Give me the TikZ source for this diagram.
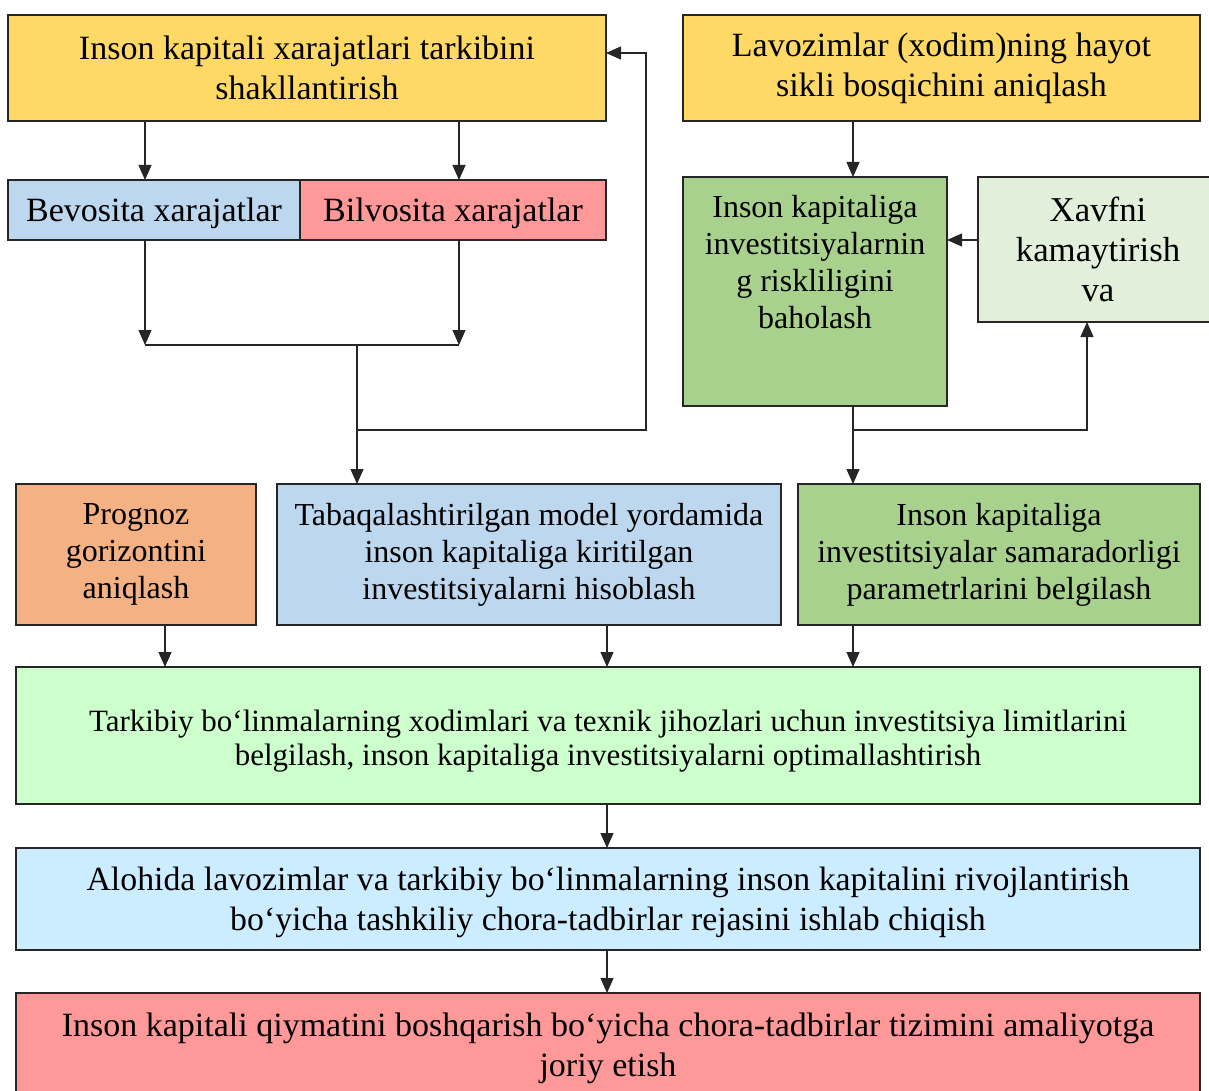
\documentclass[tikz,border=0pt]{standalone}
\usepackage{fontspec}
\setmainfont{Liberation Serif}
\usetikzlibrary{arrows.meta}
\definecolor{cYellow}{HTML}{FFD966}
\definecolor{cBlue}{HTML}{BDD7EE}
\definecolor{cPink}{HTML}{FF9999}
\definecolor{cGreen}{HTML}{A9D18E}
\definecolor{cPale}{HTML}{E2EFDA}
\definecolor{cOrange}{HTML}{F4B183}
\definecolor{cMint}{HTML}{CCFFCC}
\definecolor{cSky}{HTML}{CCECFF}
\newcommand\bx[7]{\node[box,#6,minimum width={(#4-#2)*0.5pt},minimum height={(#5-#3)*0.5pt}] (#1) at ({(#2+#4)/2},{(#3+#5)/2}) {#7};}
\begin{document}
\begin{tikzpicture}[x=0.5pt,y=-0.5pt,
  box/.style={draw=black!85,line width=0.7pt,inner sep=0pt,outer sep=0pt,align=center,font=\fontsize{17}{20}\selectfont},
  tight/.style={font=\fontsize{16}{18.5}\selectfont},
  txt/.style={align=center,inner sep=0pt,font=\fontsize{16}{18.5}\selectfont},
  arr/.style={-{Triangle[length=7.5pt,width=6.5pt]},line width=0.6pt,draw=black!85},
  ln/.style={line width=0.6pt,draw=black!85}]
\useasboundingbox (0,0) rectangle (1209,1091);
\bx{A}{8}{15}{606}{121}{fill=cYellow}{Inson kapitali xarajatlari tarkibini\\shakllantirish}
\bx{B}{683}{15}{1200}{121}{fill=cYellow}{Lavozimlar (xodim)ning hayot\\sikli bosqichini aniqlash}
\bx{bev}{8}{180}{300}{240}{fill=cBlue,text depth=0pt}{Bevosita xarajatlar}
\bx{bil}{300}{180}{606}{240}{fill=cPink,text depth=0pt}{Bilvosita xarajatlar}
\bx{risk}{683}{177}{947}{406}{fill=cGreen}{}
\node[txt] (risktxt) at (815,262.5) {Inson kapitaliga\\investitsiyalarnin\\g riskliligini\\baholash};
\bx{xavf}{978}{177}{1218}{322}{fill=cPale,font=\fontsize{17.4}{20}\selectfont}{Xavfni\\kamaytirish\\va}
\bx{prog}{16}{484}{256}{625}{fill=cOrange,tight}{Prognoz\\gorizontini\\aniqlash}
\bx{tab}{277}{484}{781}{625}{fill=cBlue,tight}{Tabaqalashtirilgan model yordamida\\inson kapitaliga kiritilgan\\investitsiyalarni hisoblash}
\bx{sam}{798}{484}{1200}{625}{fill=cGreen,tight}{Inson kapitaliga\\investitsiyalar samaradorligi\\parametrlarini belgilash}
\bx{tark}{16}{667}{1200}{804}{fill=cMint}{}
\node[txt,font=\fontsize{15.5}{17}\selectfont] (tarktxt) at (608,741) {Tarkibiy bo‘linmalarning xodimlari va texnik jihozlari uchun investitsiya limitlarini\\belgilash, inson kapitaliga investitsiyalarni optimallashtirish};
\bx{aloh}{16}{848}{1200}{950}{fill=cSky}{}
\node[txt,font=\fontsize{16.9}{20}\selectfont] (alohtxt) at (608,902) {Alohida lavozimlar va tarkibiy bo‘linmalarning inson kapitalini rivojlantirish\\bo‘yicha tashkiliy chora-tadbirlar rejasini ishlab chiqish};
\bx{fin}{16}{993}{1200}{1100}{fill=cPink}{}
\node[txt,font=\fontsize{17}{20}\selectfont] (fintxt) at (608,1048) {Inson kapitali qiymatini boshqarish bo‘yicha chora-tadbirlar tizimini amaliyotga\\joriy etish};
% junctions
\coordinate (c1) at (145,345);
\coordinate (c2) at (459,345);
\coordinate (c3) at (357,345);
\coordinate (c4) at (357,430);
\coordinate (c5) at (646,430);
\coordinate (c6) at (646,53);
\coordinate (r1) at (853,430);
\coordinate (r2) at (1087,430);
\coordinate (r3) at (962,240);
\coordinate (l1) at (165,645);
\coordinate (l2) at (607,645);
\coordinate (l3) at (853,645);
\draw[arr] (A.south -| c1) -- (bev.north -| c1);
\draw[arr] (A.south -| c2) -- (bil.north -| c2);
\draw[arr] (bev.south -| c1) -- (c1);
\draw[arr] (bil.south -| c2) -- (c2);
\draw[ln] (c1) -- (c2);
\draw[arr] (c3) -- (tab.north -| c3);
\draw[arr] (c4) -- (c5) -- (c6) -- (A.east |- c6);
\draw[arr] (B.south -| r1) -- (risk.north -| r1);
\draw[arr] (xavf.west |- r3) -- (risk.east |- r3);
\draw[arr] (risk.south -| r1) -- (sam.north -| r1);
\draw[arr] (r1) -- (r2) -- (xavf.south -| r2);
\draw[arr] (prog.south -| l1) -- (tark.north -| l1);
\draw[arr] (tab.south -| l2) -- (tark.north -| l2);
\draw[arr] (sam.south -| l3) -- (tark.north -| l3);
\draw[arr] (tark.south -| l2) -- (aloh.north -| l2);
\draw[arr] (aloh.south -| l2) -- (fin.north -| l2);
\end{tikzpicture}
\end{document}
